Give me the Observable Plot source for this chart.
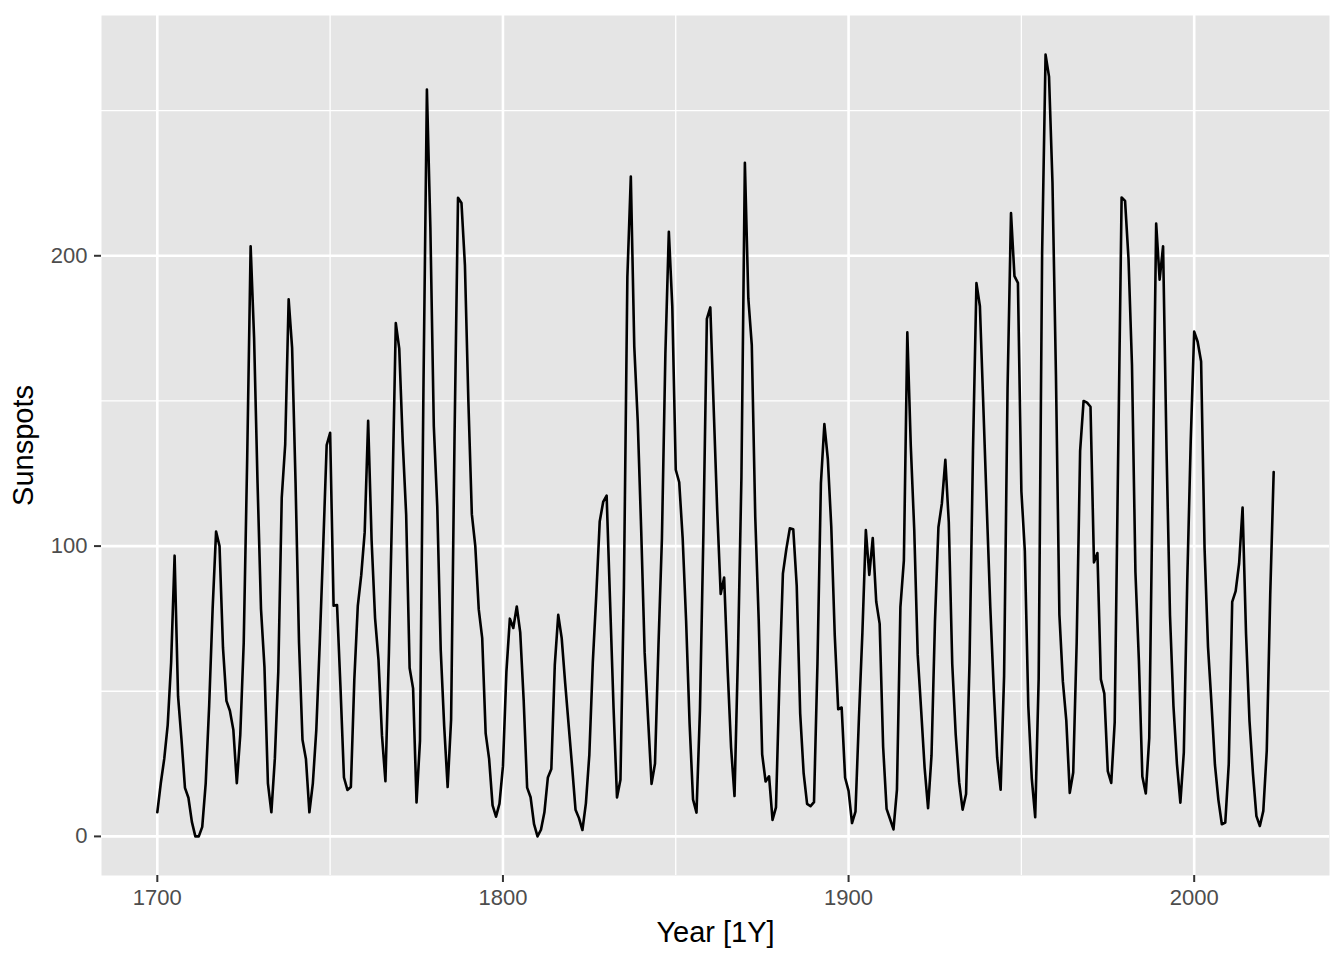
<!DOCTYPE html>
<html>
<head>
<meta charset="utf-8">
<script src="https://cdn.jsdelivr.net/npm/d3@7"></script>
<script src="https://cdn.jsdelivr.net/npm/@observablehq/plot@0.6"></script>
<style>
  html, body { margin: 0; padding: 0; background: #ffffff; }
  #chart { width: 1344px; height: 960px; }
</style>
</head>
<body>
<div id="chart"></div>
<script>
// Yearly sunspot numbers, 1700–2023
const firstYear = 1700;
const sunspots = [
  8.3, 18.3, 26.7, 38.3, 60.0, 96.7, 48.3, 33.3, 16.7, 13.3,
  5.0, 0.0, 0.0, 3.3, 18.3, 45.0, 78.3, 105.0, 100.0, 65.0,
  46.7, 43.3, 36.7, 18.3, 35.0, 66.7, 130.0, 203.3, 171.7, 121.7,
  78.3, 58.3, 18.3, 8.3, 26.7, 56.7, 116.7, 135.0, 185.0, 168.3,
  121.7, 66.7, 33.3, 26.7, 8.3, 18.3, 36.7, 66.7, 100.0, 134.8,
  139.0, 79.5, 79.7, 51.2, 20.3, 16.0, 17.0, 54.0, 79.3, 90.0,
  104.8, 143.2, 102.0, 75.2, 60.7, 34.8, 19.0, 63.0, 116.3, 176.8,
  168.0, 136.0, 110.8, 58.0, 51.0, 11.7, 33.0, 154.2, 257.3, 209.8,
  141.3, 113.5, 64.2, 38.0, 17.0, 40.2, 138.2, 220.0, 218.2, 196.8,
  149.8, 111.0, 100.0, 78.2, 68.3, 35.5, 26.7, 10.7, 6.8, 11.3,
  24.2, 56.7, 75.0, 71.8, 79.2, 70.3, 46.8, 16.8, 13.5, 4.2,
  0.0, 2.3, 8.3, 20.3, 23.2, 59.0, 76.3, 68.3, 52.9, 38.5,
  24.2, 9.2, 6.3, 2.2, 11.4, 28.2, 59.9, 83.0, 108.5, 115.2,
  117.4, 80.8, 44.3, 13.4, 19.5, 85.8, 192.7, 227.3, 168.7, 143.0,
  105.5, 63.3, 40.3, 18.1, 25.1, 65.8, 102.7, 166.3, 208.3, 182.5,
  126.3, 122.0, 102.7, 74.1, 39.0, 12.7, 8.2, 43.4, 104.4, 178.3,
  182.2, 146.6, 112.1, 83.5, 89.2, 57.8, 30.7, 13.9, 62.8, 123.6,
  232.0, 185.3, 169.2, 110.1, 74.5, 28.3, 18.9, 20.7, 5.7, 10.0,
  53.7, 90.5, 99.0, 106.1, 105.8, 86.3, 42.4, 21.8, 11.2, 10.4,
  11.8, 59.5, 121.7, 142.0, 130.0, 106.6, 69.4, 43.8, 44.4, 20.2,
  15.7, 4.6, 8.5, 40.8, 70.1, 105.5, 90.1, 102.8, 80.9, 73.2,
  30.9, 9.5, 6.0, 2.4, 16.1, 79.0, 95.0, 173.6, 134.6, 105.7,
  62.7, 43.5, 23.7, 9.7, 27.9, 74.0, 106.5, 114.7, 129.7, 108.2,
  59.4, 35.1, 18.6, 9.2, 14.6, 60.2, 132.8, 190.6, 182.6, 148.0,
  113.0, 79.2, 50.8, 27.1, 16.1, 55.3, 154.3, 214.7, 193.0, 190.7,
  118.9, 98.3, 45.0, 20.1, 6.6, 54.2, 200.7, 269.3, 261.7, 225.1,
  159.0, 76.4, 53.4, 39.9, 15.0, 22.0, 66.8, 132.9, 150.0, 149.4,
  148.0, 94.4, 97.6, 54.1, 49.2, 22.5, 18.4, 39.3, 131.0, 220.1,
  218.9, 198.9, 162.4, 91.0, 60.5, 20.6, 14.8, 33.9, 123.0, 211.1,
  191.8, 203.3, 133.0, 76.1, 44.9, 25.1, 11.6, 28.9, 88.3, 136.3,
  173.9, 170.4, 163.6, 99.3, 65.3, 45.8, 24.7, 12.6, 4.2, 4.8,
  24.9, 80.8, 84.5, 94.0, 113.3, 69.8, 39.8, 21.7, 7.0, 3.6,
  8.8, 29.6, 83.2, 125.5
];
const xTicks = [1700, 1800, 1900, 2000];
const xMinor = [1750, 1850, 1950];
const yTicks = [0, 100, 200];
const yMinor = [50, 150, 250];
const xTitle = "Year [1Y]";
const yTitle = "Sunspots";

const data = sunspots.map((v, i) => ({year: firstYear + i, value: v}));

// ggplot-style 5% expansion
const xMin = d3.min(data, d => d.year), xMax = d3.max(data, d => d.year);
const yMin = d3.min(data, d => d.value), yMax = d3.max(data, d => d.value);
const xPad = (xMax - xMin) * 0.05, yPad = (yMax - yMin) * 0.05;

const font = "'Liberation Sans', Arial, Helvetica, sans-serif";

const chart = Plot.plot({
  width: 1344,
  height: 960,
  marginLeft: 101,
  marginRight: 15,
  marginTop: 15,
  marginBottom: 85,
  style: {fontFamily: font, background: "#ffffff", overflow: "visible"},
  x: {domain: [xMin - xPad, xMax + xPad]},
  y: {domain: [yMin - yPad, yMax + yPad]},
  marks: [
    Plot.frame({fill: "#E5E5E5", stroke: null}),
    Plot.gridX(xMinor, {stroke: "#ffffff", strokeOpacity: 1, strokeWidth: 1.3}),
    Plot.gridY(yMinor, {stroke: "#ffffff", strokeOpacity: 1, strokeWidth: 1.3}),
    Plot.gridX(xTicks, {stroke: "#ffffff", strokeOpacity: 1, strokeWidth: 2.6}),
    Plot.gridY(yTicks, {stroke: "#ffffff", strokeOpacity: 1, strokeWidth: 2.6}),
    Plot.axisX({ticks: xTicks, tickSize: 7, tickPadding: 7, fontSize: 22, stroke: "#333333", fill: "#4D4D4D", strokeWidth: 2, label: null, tickFormat: d => String(d)}),
    Plot.axisY({ticks: yTicks, tickSize: 7, tickPadding: 7, fontSize: 22, stroke: "#333333", fill: "#4D4D4D", strokeWidth: 2, label: null, tickFormat: d => String(d)}),
    Plot.line(data, {x: "year", y: "value", stroke: "#000000", strokeWidth: 2.6, strokeLinejoin: "round"}),
    Plot.text([xTitle], {frameAnchor: "bottom", textAnchor: "middle", dy: 66, lineAnchor: "bottom", fontSize: 29, fill: "#000000"}),
    Plot.text([yTitle], {frameAnchor: "left", textAnchor: "middle", dx: -69, rotate: -90, lineAnchor: "bottom", fontSize: 29, fill: "#000000"})
  ]
});
document.getElementById("chart").appendChild(chart);
</script>
</body>
</html>
